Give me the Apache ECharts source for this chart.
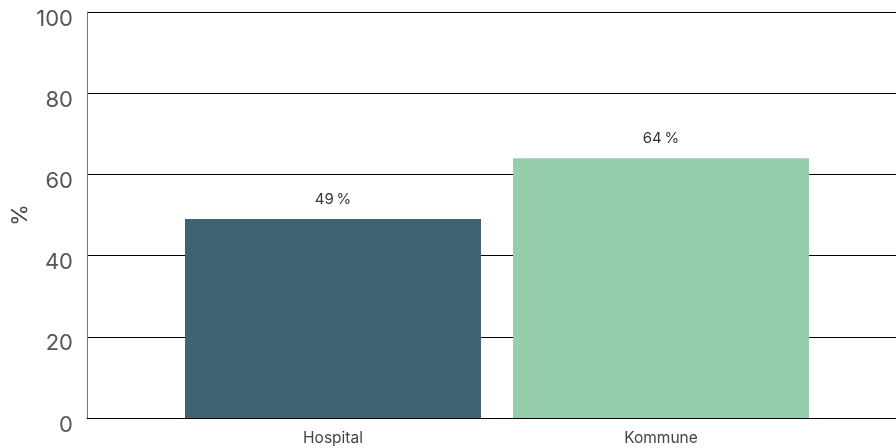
<!DOCTYPE html>
<html>
<head>
<meta charset="utf-8">
<script src="https://cdn.jsdelivr.net/npm/echarts@6/dist/echarts.min.js"></script>
<style>html,body{margin:0;padding:0;background:#fff}#c{width:896px;height:448px}</style>
</head>
<body>
<div id="c"></div>
<script>
const categories = ['Hospital', 'Kommune'];
const values = [49, 64];
const colors = ['#3e6473', '#96cdab'];
const yTicks = { min: 0, max: 100, interval: 20 };
const yName = '%';

const chart = echarts.init(document.getElementById('c'), null, { renderer: 'canvas' });
const FONT = 'Inter';
const series = categories.map((name, i) => ({
  type: 'bar',
  name: name,
  xAxisIndex: 0,
  yAxisIndex: 0,
  data: [values[i]],
  barWidth: 296,
  barGap: '10.81%',
  itemStyle: { color: colors[i] },
  label: {
    show: true,
    position: 'top',
    distance: 12,
    formatter: p => p.value + '\u2009%',
    color: '#333',
    fontFamily: FONT,
    fontSize: 15
  },
  z: 3
}));

chart.setOption({
  animation: false,
  grid: [
    { left: 87, width: 820, top: 12, bottom: 30, outerBoundsMode: 'none', containLabel: false },
    { left: 169, width: 656, top: 12, bottom: 30, outerBoundsMode: 'none', containLabel: false }
  ],
  xAxis: [
    {
      type: 'category', gridIndex: 0, data: [''],
      axisLine: { show: true, lineStyle: { color: '#000', width: 1 } },
      axisTick: { show: false }, axisLabel: { show: false }
    },
    {
      type: 'category', gridIndex: 1, data: categories,
      axisLine: { show: false }, axisTick: { show: false },
      axisLabel: { color: '#444', fontFamily: FONT, fontSize: 15.5, margin: 12 }
    }
  ],
  yAxis: [
    {
      type: 'value', gridIndex: 0, min: yTicks.min, max: yTicks.max, interval: yTicks.interval,
      name: yName, nameLocation: 'middle', nameGap: 56, nameRotate: 90, nameMoveOverlap: false,
      nameTextStyle: { color: '#444', fontFamily: FONT, fontSize: 22 },
      axisLine: { show: true, lineStyle: { color: '#777', width: 1 } },
      axisTick: { show: false },
      axisLabel: { color: '#555', fontFamily: FONT, fontSize: 22, margin: 14, verticalAlign: 'top', lineHeight: 14 },
      splitLine: { show: true, lineStyle: { color: '#000', width: 1 } }
    },
    {
      type: 'value', gridIndex: 1, min: 0, max: 100, show: false
    }
  ],
  series: series
});
</script>
</body>
</html>
